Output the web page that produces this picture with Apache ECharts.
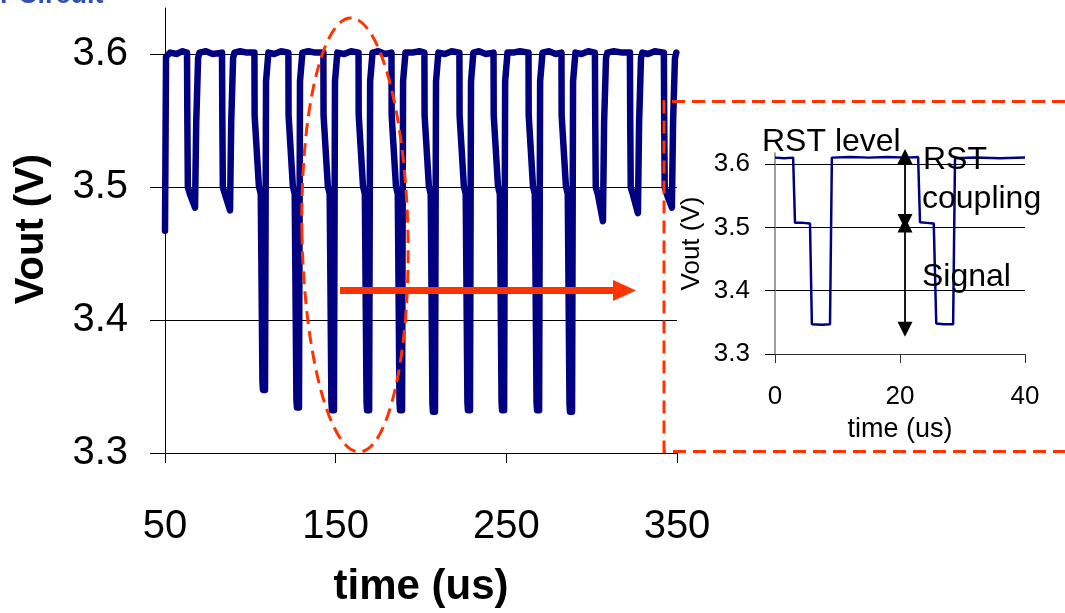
<!DOCTYPE html>
<html>
<head>
<meta charset="utf-8">
<script src="https://cdn.jsdelivr.net/npm/echarts@6/dist/echarts.min.js"></script>
<style>
html,body{margin:0;padding:0;background:#fff;}
#chart{width:1065px;height:613px;}
</style>
</head>
<body>
<div id="chart"></div>
<script>
// ---------- DATA ----------
// Main chart: time (us) vs Vout (V)
const mainPoints = [
  [50.0,3.470],[50.6,3.598],[53,3.601],[57,3.600],[60,3.602],
  [62.9,3.601],[63.1,3.550],[63.4,3.502],[64.6,3.497],[67.6,3.487],[68.0,3.487],[68.3,3.550],[69.4,3.597],[70.2,3.601],
  [74,3.602],[78,3.600],
  [83.4,3.601],[83.6,3.550],[83.9,3.502],[85.1,3.497],[88.1,3.485],[88.5,3.485],[88.8,3.550],[89.9,3.597],[90.7,3.601],
  [94,3.602],[98,3.601],
  [102.4,3.601],[102.5,3.555],[105.0,3.503],[106.1,3.497],[107.1,3.359],[107.4,3.353],[108.6,3.353],[109.2,3.580],[110.6,3.601],
  [114,3.600],[118,3.602],
  [122.3,3.601],[122.4,3.555],[124.9,3.503],[126.0,3.497],[127.0,3.346],[127.3,3.340],[128.5,3.340],[129.1,3.580],[130.5,3.601],
  [134,3.602],[138,3.601],
  [142.8,3.601],[142.9,3.555],[145.4,3.503],[146.5,3.497],[147.5,3.344],[147.8,3.338],[149.0,3.338],[149.6,3.580],[151.0,3.601],
  [155,3.600],[159,3.602],
  [163.4,3.601],[163.5,3.555],[166.0,3.503],[167.1,3.497],[168.1,3.344],[168.4,3.338],[169.6,3.338],[170.2,3.580],[171.6,3.601],
  [175,3.602],[179,3.600],
  [182.7,3.601],[182.8,3.555],[185.3,3.503],[186.4,3.497],[187.4,3.344],[187.7,3.338],[188.9,3.338],[189.5,3.580],[190.9,3.601],
  [195,3.601],[199,3.602],
  [202.0,3.601],[202.1,3.555],[204.6,3.503],[205.7,3.497],[206.7,3.343],[207.0,3.337],[208.2,3.337],[208.8,3.580],[210.2,3.601],
  [214,3.600],[218,3.602],
  [222.5,3.601],[222.6,3.555],[225.1,3.503],[226.2,3.497],[227.2,3.344],[227.5,3.338],[228.7,3.338],[229.3,3.580],[230.7,3.601],
  [234,3.602],[238,3.600],
  [242.5,3.601],[242.6,3.555],[245.1,3.503],[246.2,3.497],[247.2,3.344],[247.5,3.338],[248.7,3.338],[249.3,3.580],[250.7,3.601],
  [254,3.601],[258,3.602],
  [263.0,3.601],[263.1,3.555],[265.6,3.503],[266.7,3.497],[267.7,3.344],[268.0,3.338],[269.2,3.338],[269.8,3.580],[271.2,3.601],
  [275,3.602],[279,3.600],
  [282.3,3.601],[282.4,3.555],[284.9,3.503],[286.0,3.497],[287.0,3.343],[287.3,3.337],[288.5,3.337],[289.1,3.580],[290.5,3.601],
  [294,3.600],[298,3.602],
  [301.9,3.601],[302.1,3.550],[302.4,3.502],[303.6,3.497],[306.6,3.477],[307.0,3.477],[307.3,3.550],[308.4,3.597],[309.2,3.601],
  [313,3.602],[318,3.601],
  [322.4,3.601],[322.6,3.550],[322.9,3.502],[324.1,3.497],[327.1,3.483],[327.5,3.483],[327.8,3.550],[328.9,3.597],[329.7,3.601],
  [333,3.600],[337,3.602],
  [342.3,3.601],[342.5,3.550],[342.8,3.502],[344.0,3.497],[347.0,3.487],[347.4,3.487],[347.7,3.550],[348.8,3.597],[349.6,3.601],[350,3.601]
];
const mainXTicks = [50, 150, 250, 350];
const mainYTicks = [3.3, 3.4, 3.5, 3.6];

// Inset: zoom of one 40 us window
const insetPoints = [
  [0,3.610],[1.5,3.609],[2.9,3.610],[3.2,3.507],[4.5,3.507],[5.6,3.506],[5.9,3.347],[7.5,3.346],[8.8,3.347],[9.1,3.610],
  [12,3.611],[15,3.610],[18,3.611],[21,3.610],[22.9,3.611],[23.2,3.508],[24.3,3.507],[25.4,3.506],[25.8,3.348],[27,3.347],
  [28.5,3.347],[28.8,3.609],[32,3.610],[36,3.609],[40,3.610]
];
const insetXTicks = [0, 20, 40];
const insetYTicks = [3.3, 3.4, 3.5, 3.6];
// annotation arrows in the inset: [time, from V, to V]
const rstCouplingArrow = [20.8, 3.6116, 3.509];
const signalArrow = [20.8, 3.5037, 3.339];
const annotations = ['RST level', 'RST', 'coupling', 'Signal'];

// ---------- CHART ----------
const FONT = 'Liberation Sans, Arial, sans-serif';
const chart = echarts.init(document.getElementById('chart'), null, {renderer: 'canvas'});

const option = {
  animation: false,
  backgroundColor: '#ffffff',
  textStyle: {fontFamily: FONT},
  grid: [
    {left: 165, right: 388, top: 54, bottom: 151},
    {left: 165, right: 388, top: 8, bottom: 151},
    {left: 775, right: 40, top: 164, bottom: 259},
    {left: 775, right: 40, top: 153, bottom: 259}
  ],
  xAxis: [
    {
      gridIndex: 0, type: 'value', min: mainXTicks[0], max: mainXTicks[mainXTicks.length - 1], interval: 100,
      axisLine: {show: true, onZero: false, lineStyle: {color: '#000', width: 1}},
      axisTick: {show: true, length: 10, lineStyle: {color: '#000'}},
      axisLabel: {fontSize: 40, color: '#000', margin: 54, fontFamily: FONT},
      splitLine: {show: false},
      name: 'time (us)', nameLocation: 'middle', nameGap: 113,
      nameTextStyle: {fontSize: 42, fontWeight: 'bold', color: '#000', fontFamily: FONT}
    },
    {gridIndex: 1, type: 'value', min: 50, max: 350, show: false},
    {
      gridIndex: 2, type: 'value', min: insetXTicks[0], max: insetXTicks[insetXTicks.length - 1], interval: 20,
      axisLine: {show: true, onZero: false, lineStyle: {color: '#333', width: 1}},
      axisTick: {show: true, length: 9, lineStyle: {color: '#333'}},
      axisLabel: {fontSize: 26, color: '#000', margin: 30, fontFamily: FONT},
      splitLine: {show: false},
      name: 'time (us)', nameLocation: 'middle', nameGap: 62,
      nameTextStyle: {fontSize: 27, color: '#000', fontFamily: FONT}
    },
    {gridIndex: 3, type: 'value', min: 0, max: 40, show: false}
  ],
  yAxis: [
    {
      gridIndex: 0, type: 'value', min: mainYTicks[0], max: mainYTicks[mainYTicks.length - 1], interval: 0.1,
      axisLine: {show: false},
      axisTick: {show: true, length: 15, lineStyle: {color: '#000'}},
      axisLabel: {fontSize: 40, color: '#000', margin: 37, fontFamily: FONT, formatter: v => v.toFixed(1)},
      splitLine: {show: true, lineStyle: {color: '#000', width: 1}}
    },
    {
      gridIndex: 1, type: 'value', min: 3.3, max: 3.6338,
      axisLine: {show: true, onZero: false, lineStyle: {color: '#000', width: 1}},
      axisTick: {show: false}, axisLabel: {show: false}, splitLine: {show: false},
      name: 'Vout (V)', nameLocation: 'middle', nameGap: 113,
      nameTextStyle: {fontSize: 40, fontWeight: 'bold', color: '#000', fontFamily: FONT, padding: [0, 0, 0, 12]}
    },
    {
      gridIndex: 2, type: 'value', min: insetYTicks[0], max: insetYTicks[insetYTicks.length - 1], interval: 0.1,
      axisLine: {show: false},
      axisTick: {show: true, length: 10, lineStyle: {color: '#000'}},
      axisLabel: {fontSize: 26, color: '#000', margin: 25, fontFamily: FONT, formatter: v => v.toFixed(1)},
      splitLine: {show: true, lineStyle: {color: '#000', width: 1}}
    },
    {
      gridIndex: 3, type: 'value', min: 3.3, max: 3.6173,
      axisLine: {show: true, onZero: false, lineStyle: {color: '#808080', width: 1.5}},
      axisTick: {show: false}, axisLabel: {show: false}, splitLine: {show: false},
      name: 'Vout (V)', nameLocation: 'middle', nameGap: 70,
      nameTextStyle: {fontSize: 26, color: '#000', fontFamily: FONT, padding: [0, 0, 0, 20]}
    }
  ],
  series: [
    {
      type: 'line', xAxisIndex: 1, yAxisIndex: 1, data: mainPoints,
      showSymbol: false, symbol: 'none', silent: true, z: 3,
      lineStyle: {color: '#000080', width: 6.5, join: 'round', cap: 'round'}
    },
    {
      type: 'line', xAxisIndex: 3, yAxisIndex: 3, data: insetPoints,
      showSymbol: false, symbol: 'none', silent: true, z: 3,
      lineStyle: {color: '#000080', width: 2.5},
      markLine: {
        silent: true, symbol: ['triangle', 'triangle'], symbolSize: 15,
        label: {show: false},
        lineStyle: {color: '#000', width: 1.8, type: 'solid'},
        data: [
          [{coord: [rstCouplingArrow[0], rstCouplingArrow[1]]}, {coord: [rstCouplingArrow[0], rstCouplingArrow[2]]}],
          [{coord: [signalArrow[0], signalArrow[1]]}, {coord: [signalArrow[0], signalArrow[2]]}]
        ]
      }
    }
  ],
  graphic: [
    {type: 'text', x: 0, y: -18, z: 100, silent: true,
      style: {text: 'r Circuit', fill: '#3050b0', font: 'bold 27px ' + FONT, textAlign: 'left', textVerticalAlign: 'top'}},
    {type: 'ellipse', x: 355, y: 235, rotation: 0.02, z: 100, silent: true,
      shape: {cx: 0, cy: 0, rx: 53, ry: 217},
      style: {fill: 'none', stroke: '#FF3300', lineWidth: 3, lineDash: [13, 7]}},
    {type: 'line', z: 100, silent: true, shape: {x1: 340, y1: 290.5, x2: 616, y2: 290.5},
      style: {stroke: '#FF3300', lineWidth: 7}},
    {type: 'polygon', z: 100, silent: true, shape: {points: [[613, 280], [636, 290.5], [613, 301]]},
      style: {fill: '#FF3300'}},
    {type: 'polyline', z: 100, silent: true,
      shape: {points: [[1065, 101.5], [664, 101.5], [664, 451.5], [1065, 451.5]]},
      style: {fill: 'none', stroke: '#FF3300', lineWidth: 3, lineDash: [13, 7]}},
    {type: 'text', x: 762, y: 142, z: 101, silent: true,
      style: {text: annotations[0], fill: '#000', font: '32px ' + FONT, textAlign: 'left', textVerticalAlign: 'middle'}},
    {type: 'text', x: 923, y: 160, z: 101, silent: true,
      style: {text: annotations[1], fill: '#000', font: '32px ' + FONT, textAlign: 'left', textVerticalAlign: 'middle'}},
    {type: 'text', x: 922, y: 199, z: 101, silent: true,
      style: {text: annotations[2], fill: '#000', font: '32px ' + FONT, textAlign: 'left', textVerticalAlign: 'middle'}},
    {type: 'text', x: 922, y: 277, z: 101, silent: true,
      style: {text: annotations[3], fill: '#000', font: '32px ' + FONT, textAlign: 'left', textVerticalAlign: 'middle'}}
  ]
};
chart.setOption(option);
</script>
</body>
</html>
